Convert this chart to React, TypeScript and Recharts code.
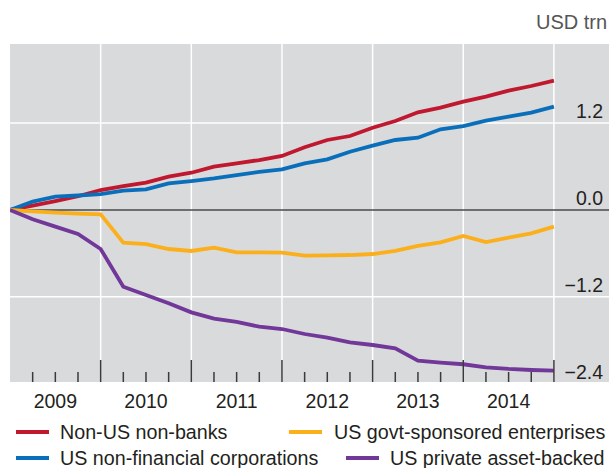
import React from 'react';
import { LineChart, Line, XAxis, YAxis, CartesianGrid, ReferenceLine } from 'recharts';

const periods = [
  '2008Q4',
  '2009Q1', '2009Q2', '2009Q3', '2009Q4',
  '2010Q1', '2010Q2', '2010Q3', '2010Q4',
  '2011Q1', '2011Q2', '2011Q3', '2011Q4',
  '2012Q1', '2012Q2', '2012Q3', '2012Q4',
  '2013Q1', '2013Q2', '2013Q3', '2013Q4',
  '2014Q1', '2014Q2', '2014Q3', '2014Q4',
];

const nonUSNonBanks = [0, 0.06, 0.124, 0.19, 0.276, 0.33, 0.377, 0.46, 0.515, 0.598, 0.645, 0.69, 0.746, 0.866, 0.967, 1.022, 1.137, 1.229, 1.349, 1.413, 1.496, 1.565, 1.648, 1.713, 1.786];
const usNonFinancial = [0, 0.115, 0.184, 0.2, 0.22, 0.267, 0.285, 0.368, 0.4, 0.437, 0.483, 0.525, 0.562, 0.645, 0.7, 0.805, 0.888, 0.967, 0.999, 1.115, 1.16, 1.233, 1.289, 1.344, 1.427];
const usGovtSponsored = [0, -0.018, -0.037, -0.051, -0.06, -0.452, -0.47, -0.539, -0.566, -0.52, -0.585, -0.585, -0.59, -0.631, -0.626, -0.622, -0.608, -0.566, -0.497, -0.447, -0.359, -0.442, -0.382, -0.322, -0.23];
const usPrivateABS = [0, -0.129, -0.23, -0.331, -0.539, -1.059, -1.174, -1.289, -1.414, -1.501, -1.547, -1.612, -1.644, -1.713, -1.764, -1.828, -1.865, -1.91, -2.081, -2.109, -2.131, -2.173, -2.196, -2.21, -2.219];

const yearLabels = ['2009', '2010', '2011', '2012', '2013', '2014'];
const yearBoundaries = [4, 8, 12, 16, 20, 24];
const quarterTicks = Array.from({ length: 24 }, (_, i) => i + 1);
const yTicks = [-2.4, -1.2, 0, 1.2];
const yTickLabels = ['\u22122.4', '\u22121.2', '0.0', '1.2'];
const gridYValues = [-1.2, 1.2];

const seriesNames = ['Non-US non-banks', 'US non-financial corporations', 'US govt-sponsored enterprises', 'US private asset-backed'];
const colors = ['#c0182f', '#0a6fba', '#fbb01b', '#713799'];

const data = periods.map((p, i) => ({
  q: i,
  period: p,
  a: nonUSNonBanks[i],
  b: usNonFinancial[i],
  c: usGovtSponsored[i],
  d: usPrivateABS[i],
}));

const FONT = '"Liberation Sans", Arial, Helvetica, sans-serif';
const TEXT = '#231f20';

const XTick = (props: any) => {
  const { x, y, payload } = props;
  const v = payload.value as number;
  const major = v % 4 === 0;
  const label = v % 4 === 2 ? yearLabels[(v - 2) / 4] : null;
  return (
    <g>
      <line x1={x} x2={x} y1={y} y2={y - (major ? 22 : 10)} stroke="#3a3a3a" strokeWidth={1.5} />
      {label && (
        <text x={x} y={y + 26} textAnchor="middle" fontFamily={FONT} fontSize={19.5} fill={TEXT}>
          {label}
        </text>
      )}
    </g>
  );
};

const YTick = (props: any) => {
  const { x, y, payload } = props;
  const idx = yTicks.indexOf(payload.value);
  return (
    <text x={x - 6} y={y - 5} textAnchor="end" fontFamily={FONT} fontSize={19.5} fill={TEXT}>
      {idx >= 0 ? yTickLabels[idx] : ''}
    </text>
  );
};

const LegendItem = ({ color, name, left, top, swatchLeft }: any) => (
  <div style={{ position: 'absolute', left: swatchLeft, top, height: 26, display: 'flex', alignItems: 'center' }}>
    <div style={{ width: 33, height: 3.5, background: color }} />
    <div style={{ marginLeft: left - swatchLeft - 33, fontFamily: FONT, fontSize: 19.7, color: TEXT, whiteSpace: 'nowrap' }}>{name}</div>
  </div>
);

export default function App() {
  return (
    <div style={{ position: 'absolute', left: 0, top: 0, width: 609, height: 468, background: '#fff', overflow: 'hidden' }}>
      <LineChart width={609} height={468} data={data} margin={{ top: 44, right: 0, bottom: 56, left: 10 }}>
        <CartesianGrid fill="#d9dadc" horizontal={false} vertical={false} />
        {gridYValues.map((v) => (
          <ReferenceLine key={'h' + v} y={v} stroke="#ffffff" strokeWidth={1.5} />
        ))}
        {yearBoundaries.map((v) => (
          <ReferenceLine key={'v' + v} x={v} stroke="#ffffff" strokeWidth={1.5} />
        ))}
        <XAxis
          dataKey="q"
          type="number"
          domain={[0, 26.43]}
          ticks={quarterTicks}
          interval={0}
          tick={<XTick />}
          tickSize={0}
          tickMargin={0}
          axisLine={false}
          tickLine={false}
          height={30}
          allowDataOverflow
        />
        <YAxis
          type="number"
          orientation="right"
          mirror
          domain={[-2.376, 2.293]}
          ticks={yTicks}
          interval={0}
          tick={<YTick />}
          tickSize={0}
          tickMargin={0}
          axisLine={false}
          tickLine={false}
          width={60}
          allowDataOverflow
        />
        <ReferenceLine y={0} stroke="#4a4a4a" strokeWidth={1.5} />
        <Line type="linear" dataKey="a" stroke={colors[0]} strokeWidth={3.8} dot={false} isAnimationActive={false} />
        <Line type="linear" dataKey="b" stroke={colors[1]} strokeWidth={3.8} dot={false} isAnimationActive={false} />
        <Line type="linear" dataKey="c" stroke={colors[2]} strokeWidth={3.8} dot={false} isAnimationActive={false} />
        <Line type="linear" dataKey="d" stroke={colors[3]} strokeWidth={3.8} dot={false} isAnimationActive={false} />
      </LineChart>
      <div style={{ position: 'absolute', left: 536, top: 11, fontFamily: FONT, fontSize: 20, color: '#555', whiteSpace: 'nowrap' }}>USD trn</div>
      <LegendItem color={colors[0]} name={seriesNames[0]} swatchLeft={16} left={60} top={419} />
      <LegendItem color={colors[1]} name={seriesNames[1]} swatchLeft={16} left={60} top={445} />
      <LegendItem color={colors[2]} name={seriesNames[2]} swatchLeft={289} left={334} top={419} />
      <LegendItem color={colors[3]} name={seriesNames[3]} swatchLeft={346} left={390} top={445} />
    </div>
  );
}
